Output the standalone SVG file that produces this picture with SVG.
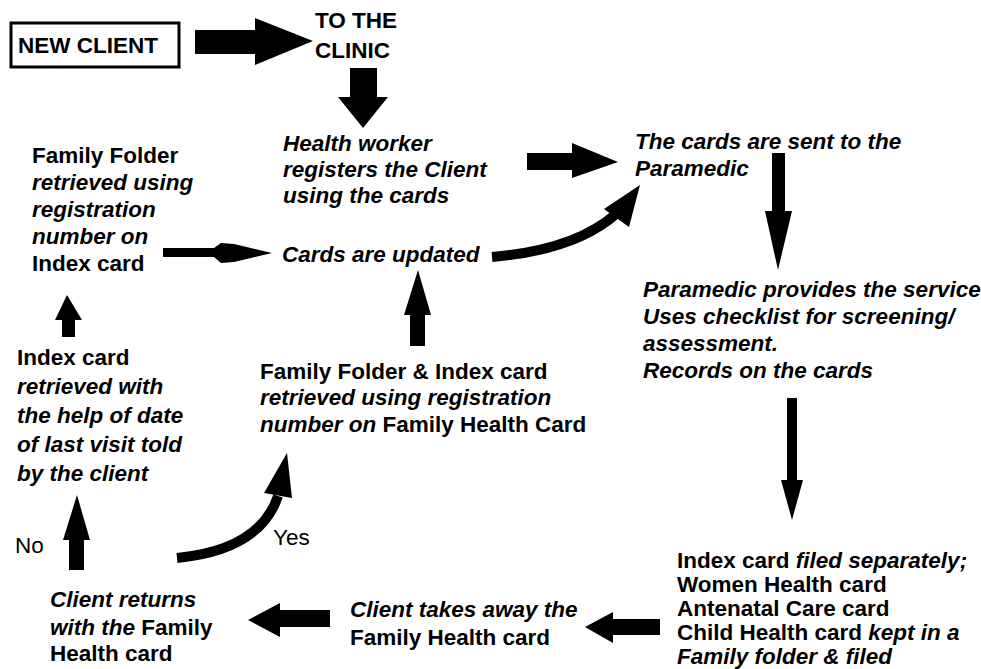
<svg xmlns="http://www.w3.org/2000/svg" width="981" height="669" viewBox="0 0 981 669">
<style>
.t{font-family:"Liberation Sans",Arial,sans-serif;font-size:22.5px;font-weight:bold;fill:#000}
.i{font-style:italic}
.r{font-weight:normal}
.a{fill:#000;stroke:none}
.c{fill:none;stroke:#000;stroke-width:10}
</style>
<rect width="981" height="669" fill="#fff"/>
<g id="connectors">
<polygon class="a" points="195,30 255,30 255,18 313,41 255,65 255,54 195,54"/>
<polygon class="a" points="350,68 377,68 377,97 388,97 363,128 338,97 350,97"/>
<polygon class="a" points="527,153 572,153 572,143 618,162 572,178 572,170 527,170"/>
<polygon class="a" points="772,153 785,153 785,211 792,211 778,270 765,211 772,211"/>
<path class="a" d="M163,248 L214,248 L221,243 L234,244 L272,253 L234,262 L221,263 L214,257 L163,257 Z"/>
<path class="c" d="M492,257 Q575,250 616,214"/>
<polygon class="a" points="640,185 604,209 629,227"/>
<polygon class="a" points="418,270 431,315 425,315 425,346 410,346 410,315 404,315"/>
<polygon class="a" points="67,295 82,320 75,320 75,337 62,337 62,320 55,320"/>
<polygon class="a" points="787,398 797,398 797,480 803,480 792,520 781,480 787,480"/>
<polygon class="a" points="585,627 613,612 613,619 660,619 660,635 613,635 613,643"/>
<polygon class="a" points="248,620 280,603 280,610 330,610 330,627 280,627 280,637"/>
<polygon class="a" points="77,495 90,540 84,540 84,570 69,570 69,540 63,540"/>
<path class="c" d="M177,558 Q260,550 278,496"/>
<polygon class="a" points="287,453 292,498 264,493"/>
</g>
<g id="new-client">
<rect x="11" y="23" width="168" height="44" fill="none" stroke="#000" stroke-width="3"/>
<text class="t" x="18" y="53">NEW CLIENT</text>
</g>
<g id="clinic">
<text class="t" x="315" y="28">TO THE</text>
<text class="t" x="315" y="58">CLINIC</text>
</g>
<g id="health-worker">
<text class="t i" x="283" y="151">Health worker</text>
<text class="t i" x="283" y="177">registers the Client</text>
<text class="t i" x="283" y="203">using the cards</text>
</g>
<g id="cards-sent">
<text class="t i" x="635" y="149">The cards are sent to the</text>
<text class="t i" x="635" y="176">Paramedic</text>
</g>
<g id="family-folder">
<text class="t" x="32" y="163">Family Folder</text>
<text class="t i" x="32" y="190">retrieved using</text>
<text class="t i" x="32" y="217">registration</text>
<text class="t i" x="32" y="244">number on</text>
<text class="t" x="32" y="271">Index card</text>
</g>
<g id="cards-updated">
<text class="t i" x="282" y="262">Cards are updated</text>
</g>
<g id="paramedic">
<text class="t i" x="643" y="297">Paramedic provides the service</text>
<text class="t i" x="643" y="324">Uses checklist for screening/</text>
<text class="t i" x="643" y="351">assessment.</text>
<text class="t i" x="643" y="378">Records on the cards</text>
</g>
<g id="index-card">
<text class="t" x="17" y="365">Index card</text>
<text class="t i" x="17" y="394">retrieved with</text>
<text class="t i" x="17" y="423">the help of date</text>
<text class="t i" x="17" y="452">of last visit told</text>
<text class="t i" x="17" y="481">by the client</text>
</g>
<g id="folder-index">
<text class="t" x="260" y="379">Family Folder &amp; Index card</text>
<text class="t i" x="260" y="405">retrieved using registration</text>
<text class="t" x="260" y="432"><tspan class="i">number on</tspan> Family Health Card</text>
</g>
<g id="labels">
<text class="t r" x="15" y="553">No</text>
<text class="t r" x="273" y="545">Yes</text>
</g>
<g id="client-returns">
<text class="t i" x="50" y="607">Client returns</text>
<text class="t" x="50" y="635"><tspan class="i">with the</tspan> Family</text>
<text class="t" x="50" y="661">Health card</text>
</g>
<g id="client-takes">
<text class="t i" x="350" y="617">Client takes away the</text>
<text class="t" x="350" y="645">Family Health card</text>
</g>
<g id="filed">
<text class="t" x="677" y="568">Index card <tspan class="i">filed separately;</tspan></text>
<text class="t" x="677" y="592">Women Health card</text>
<text class="t" x="677" y="616">Antenatal Care card</text>
<text class="t" x="677" y="640">Child Health card <tspan class="i">kept in a</tspan></text>
<text class="t i" x="677" y="664">Family folder &amp; filed</text>
</g>
</svg>
